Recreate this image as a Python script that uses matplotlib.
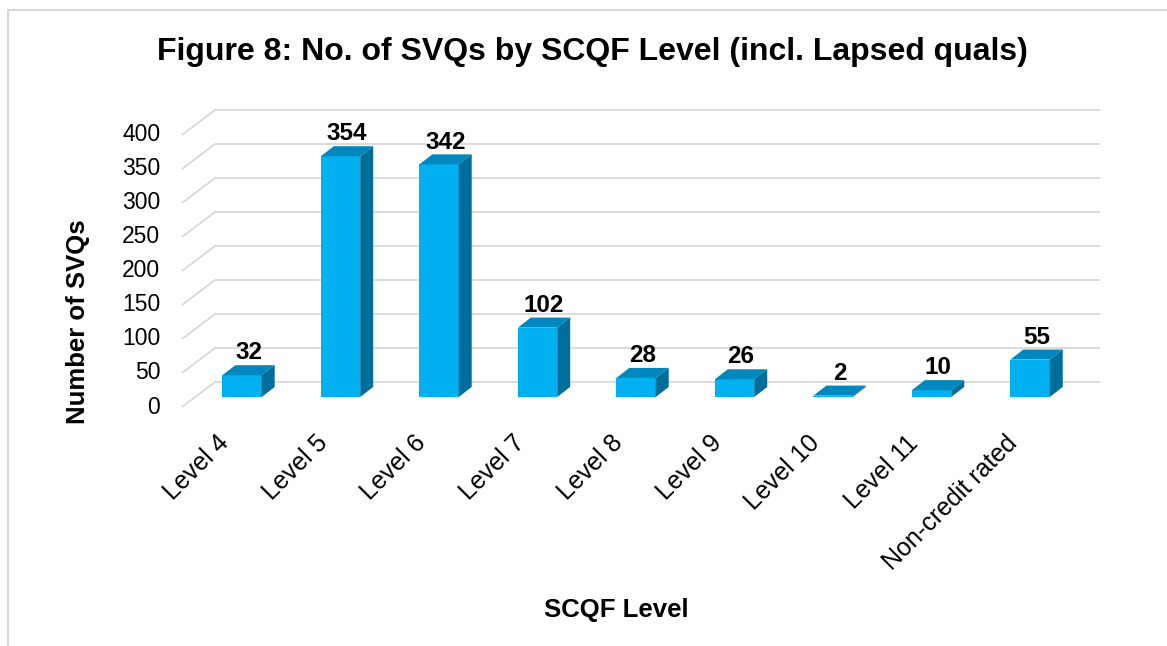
import matplotlib
matplotlib.use("Agg")
import matplotlib.pyplot as plt
from matplotlib.patches import Polygon
from matplotlib.lines import Line2D

plt.rcParams['font.family'] = ['Liberation Sans', 'DejaVu Sans']

categories = ['Level 4', 'Level 5', 'Level 6', 'Level 7', 'Level 8',
              'Level 9', 'Level 10', 'Level 11', 'Non-credit rated']
counts = [32, 354, 342, 102, 28, 26, 2, 10, 55]
yticks = [0, 50, 100, 150, 200, 250, 300, 350, 400]

front = '#00B0F0'
top_c = '#0088BE'
side_c = '#006E9A'
grid_c = '#D9D9D9'

fig = plt.figure(figsize=(11.67, 6.46), dpi=100)
ax = fig.add_axes([182 / 1167, 1 - 407 / 646, (1099 - 182) / 1167, (407 - 108) / 646])
ax.set_xlim(-0.609, 8.70)
ax.set_ylim(-14.7, 425)
ax.set_axis_off()

# fake 3d: floor/wall offsets in data units
wall_dx, wall_dy = 0.335, 22.0
lab_dy = -14.7
bar_w = 0.40
dep_x, dep_y = 0.132, 14.8

# gridlines: back wall + diagonal on the left side wall
for v in yticks:
    ax.plot([-0.609, -0.609 + wall_dx], [v + lab_dy, v + wall_dy],
            color=grid_c, lw=1.3, zorder=1, clip_on=False, solid_capstyle='butt')
    ax.plot([-0.609 + wall_dx, 8.70], [v + wall_dy, v + wall_dy],
            color=grid_c, lw=1.3, zorder=1, clip_on=False)
    ax.text(-0.609 - 0.22, v + lab_dy, str(v), ha='right', va='center',
            fontsize=16.5, color='black')

x = list(range(len(categories)))
ax.bar(x, counts, width=bar_w, color=front, zorder=3)
for i, v in zip(x, counts):
    l, r = i - bar_w / 2, i + bar_w / 2
    ax.add_patch(Polygon([(l, v), (r, v), (r + dep_x, v + dep_y), (l + dep_x, v + dep_y)],
                         closed=True, facecolor=top_c, edgecolor='none', zorder=3))
    ax.add_patch(Polygon([(r, 0), (r, v), (r + dep_x, v + dep_y), (r + dep_x, dep_y)],
                         closed=True, facecolor=side_c, edgecolor='none', zorder=3))
    ax.text(i + dep_x / 2, v + 33, str(v), ha='center', va='center',
            fontsize=17.5, fontweight='bold', zorder=4)
    ax.text(i - 0.17, -62, categories[i], ha='right', va='center', rotation=45,
            rotation_mode='anchor', fontsize=18, clip_on=False)

fig.text(592 / 1167, 1 - 52 / 646, 'Figure 8: No. of SVQs by SCQF Level (incl. Lapsed quals)',
         ha='center', va='center', fontsize=23, fontweight='bold')
fig.text(616 / 1167, 1 - 610 / 646, 'SCQF Level', ha='center', va='center',
         fontsize=18.5, fontweight='bold')
fig.text(78 / 1167, 1 - 322 / 646, 'Number of SVQs', ha='center', va='center',
         rotation=90, fontsize=18.5, fontweight='bold')

# chart border (only left/top visible in the crop)
fig.add_artist(Line2D([8 / 1167, 8 / 1167], [0, 1 - 10 / 646], color=grid_c, lw=1.5))
fig.add_artist(Line2D([8 / 1167, 1], [1 - 10 / 646, 1 - 10 / 646], color=grid_c, lw=1.5))

fig.savefig('out.png', dpi=100)
